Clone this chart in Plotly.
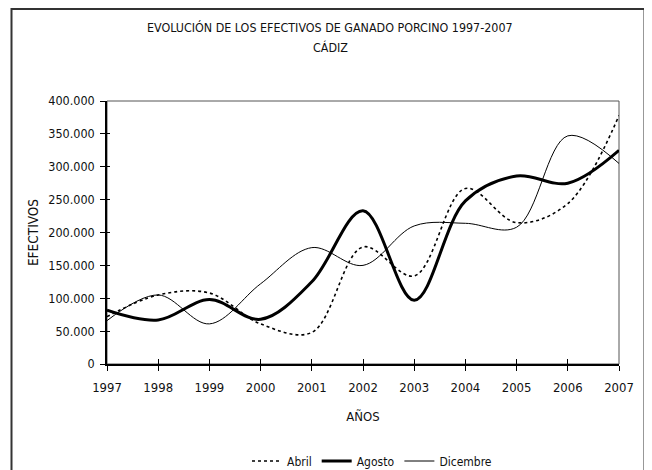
import plotly.graph_objects as go

years = [1997, 1998, 1999, 2000, 2001, 2002, 2003, 2004, 2005, 2006, 2007]
abril = [72000, 105000, 108000, 61000, 48000, 178000, 134000, 267000, 215000, 244000, 378000]
agosto = [82000, 67000, 98000, 68000, 125000, 233000, 97000, 248000, 286000, 275000, 325000]
dicembre = [66000, 105000, 61000, 122000, 177000, 150000, 210000, 214000, 208000, 347000, 305000]

y_tickvals = [0, 50000, 100000, 150000, 200000, 250000, 300000, 350000, 400000]
y_ticktext = ["0", "50.000", "100.000", "150.000", "200.000", "250.000", "300.000", "350.000", "400.000"]
x_tickvals = years
x_ticktext = [str(y) for y in years]

title_line1 = "EVOLUCIÓN DE LOS EFECTIVOS DE GANADO PORCINO 1997-2007"
title_line2 = "CÁDIZ"

FONT = "Liberation Sans Narrow, DejaVu Sans Condensed, Arial Narrow, sans-serif"

OFF = 8  # page body margin of the html page
W, H = 652 - OFF, 470 - OFF
# plot area in page pixels
L, R, T, B = 107, 619, 101, 364
PW, PH = R - L, B - T


def px(x):
    return (x - L) / PW


def py(y):
    return (B - y) / PH


fig = go.Figure()
fig.add_trace(go.Scatter(x=years, y=abril, name="Abril", mode="lines",
                         line=dict(color="black", width=1.6, dash="dot", shape="spline", smoothing=1)))
fig.add_trace(go.Scatter(x=years, y=agosto, name="Agosto", mode="lines",
                         line=dict(color="black", width=3, shape="spline", smoothing=1)))
fig.add_trace(go.Scatter(x=years, y=dicembre, name="Dicembre", mode="lines",
                         line=dict(color="black", width=1, shape="spline", smoothing=1)))

fig.update_layout(
    width=W, height=H,
    margin=dict(l=L - OFF, r=W - (R - OFF), t=T - OFF, b=H - (B - OFF), autoexpand=False),
    paper_bgcolor="white", plot_bgcolor="white",
    font=dict(family=FONT, size=12.5, color="#111"),
    showlegend=True,
    legend=dict(orientation="h", x=px(372), xanchor="center", y=py(461), yanchor="middle",
                font=dict(size=12), itemwidth=30, tracegroupgap=0),
    annotations=[
        dict(text=title_line1, xref="paper", yref="paper", x=px(330), y=py(28),
             xanchor="center", yanchor="middle", showarrow=False,
             font=dict(size=12.4, family=FONT)),
        dict(text=title_line2, xref="paper", yref="paper", x=px(330), y=py(48),
             xanchor="center", yanchor="middle", showarrow=False,
             font=dict(size=12.4, family=FONT)),
    ],
    xaxis=dict(range=[1997, 2007], tickvals=x_tickvals, ticktext=x_ticktext,
               showline=True, linecolor="black", linewidth=1.5, automargin=False,
               ticks="outside", ticklen=5, tickcolor="black", tickwidth=1,
               tickfont=dict(size=13), ticklabelstandoff=6,
               showgrid=False, zeroline=False,
               title=dict(text="AÑOS", font=dict(size=13), standoff=18)),
    yaxis=dict(range=[0, 400000], tickvals=y_tickvals, ticktext=y_ticktext,
               showline=True, linecolor="black", linewidth=1.5, automargin=False,
               ticks="outside", ticklen=5, tickcolor="black", tickwidth=1,
               ticklabelstandoff=3,
               showgrid=False, zeroline=False,
               title=dict(text="EFECTIVOS", font=dict(size=13.5), standoff=7)),
    xaxis2=dict(overlaying="x", matches="x", side="bottom", anchor="y", automargin=False,
                tickvals=x_tickvals, showticklabels=False, ticks="inside", ticklen=5,
                tickcolor="black", showline=False, showgrid=False, zeroline=False),
    yaxis2=dict(overlaying="y", matches="y", side="left", anchor="x", automargin=False,
                tickvals=y_tickvals, showticklabels=False, ticks="inside", ticklen=3,
                tickcolor="black", showline=False, showgrid=False, zeroline=False),
    shapes=[
        dict(type="rect", xref="paper", yref="paper", x0=0, y0=0, x1=1, y1=1,
             line=dict(color="#555", width=1), layer="below"),
        dict(type="rect", xref="paper", yref="paper",
             x0=px(11.5), x1=px(644.5), y0=py(480), y1=py(9),
             line=dict(color="#333", width=2), layer="below"),
    ],
)
fig.add_trace(go.Scatter(x=[years[0]], y=[y_tickvals[0]], xaxis="x2", yaxis="y2",
                         mode="markers", marker=dict(opacity=0), showlegend=False, hoverinfo="skip"))

fig.write_html("out.html")
